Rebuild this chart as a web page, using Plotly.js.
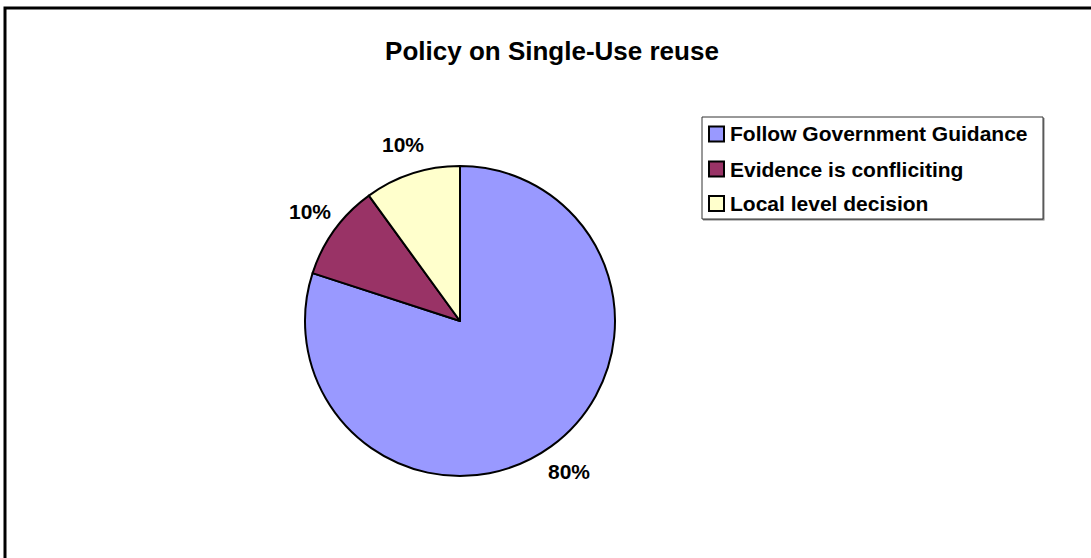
<!DOCTYPE html>
<html>
<head>
<meta charset="utf-8">
<script src="https://cdn.plot.ly/plotly-3.0.1.min.js"></script>
<style>
  html, body { margin: 0; padding: 0; background: #fff; }
  #chart { width: 1091px; height: 558px; }
</style>
</head>
<body>
<div id="chart"></div>
<script>
// Survey responses on single-use device reuse policy
const categories = ['Follow Government Guidance', 'Evidence is confliciting', 'Local level decision'];
const shares = [80, 10, 10];
const sliceColors = ['#9999FF', '#993366', '#FFFFCC'];

const W = 1091, H = 558;
const FONT = 'Liberation Sans, Arial, sans-serif';
// pie centre and radius in pixels
const cx = 460, cy = 321, R = 155;
// distance of the percentage labels from the pie centre
const labelDist = 186;

// pixel -> paper helpers (margins are zero, so paper == page)
const px = x => x / W;
const py = y => 1 - y / H;

const trace = {
  type: 'pie',
  labels: categories,
  values: shares,
  sort: false,
  direction: 'clockwise',
  rotation: 0,
  marker: { colors: sliceColors, line: { color: '#000', width: 2 } },
  textinfo: 'none',
  hoverinfo: 'label+percent',
  showlegend: false,
  domain: { x: [px(cx - R), px(cx + R)], y: [py(cy + R), py(cy - R)] }
};

// percentage labels placed outside each slice, at its mid-angle
const total = shares.reduce((a, b) => a + b, 0);
const annotations = [];
let acc = 0;
shares.forEach(v => {
  const mid = (acc + v / 2) / total * 2 * Math.PI;   // clockwise from 12 o'clock
  acc += v;
  annotations.push({
    xref: 'paper', yref: 'paper',
    x: px(cx + labelDist * Math.sin(mid)),
    y: py(cy - labelDist * Math.cos(mid)),
    xanchor: 'center', yanchor: 'middle',
    text: Math.round(v / total * 100) + '%',
    showarrow: false,
    font: { family: FONT, size: 21, color: '#000', weight: 'bold' }
  });
});

// legend: framed box with a square swatch and label per category
const legBox = { x0: 702, y0: 117, x1: 1043, y1: 219 };
const legRowY = [134, 169, 203.5];
const swatchX = 716.5, swatchHalf = 7.5, legTextX = 728;

const shapes = [
  // chart frame
  { type: 'rect', xref: 'paper', yref: 'paper',
    x0: px(5), x1: 1.02, y0: -0.02, y1: py(8),
    line: { color: '#000', width: 3 }, fillcolor: 'rgba(0,0,0,0)', layer: 'below' },
  // legend shadow and box
  { type: 'rect', xref: 'paper', yref: 'paper',
    x0: px(legBox.x0 + 1), x1: px(legBox.x1 + 1.5), y0: py(legBox.y1 + 1.5), y1: py(legBox.y0 + 1),
    line: { width: 0 }, fillcolor: '#808080', layer: 'above' },
  { type: 'rect', xref: 'paper', yref: 'paper',
    x0: px(legBox.x0), x1: px(legBox.x1), y0: py(legBox.y1), y1: py(legBox.y0),
    line: { color: '#333', width: 1 }, fillcolor: '#fff', layer: 'above' }
];

categories.forEach((name, i) => {
  const yc = legRowY[i];
  shapes.push({
    type: 'rect', xref: 'paper', yref: 'paper',
    x0: px(swatchX - swatchHalf), x1: px(swatchX + swatchHalf),
    y0: py(yc + swatchHalf), y1: py(yc - swatchHalf),
    line: { color: '#000', width: 2 }, fillcolor: sliceColors[i], layer: 'above'
  });
  annotations.push({
    xref: 'paper', yref: 'paper',
    x: px(legTextX), y: py(yc),
    xanchor: 'left', yanchor: 'middle',
    text: name, showarrow: false,
    font: { family: FONT, size: 21, color: '#000', weight: 'bold' }
  });
});

const layout = {
  width: W,
  height: H,
  margin: { l: 0, r: 0, t: 0, b: 0 },
  paper_bgcolor: '#fff',
  showlegend: false,
  title: {
    text: 'Policy on Single-Use reuse',
    x: px(552), xanchor: 'center',
    y: py(51), yanchor: 'middle',
    font: { family: FONT, size: 26, color: '#000', weight: 'bold' }
  },
  shapes: shapes,
  annotations: annotations
};

Plotly.newPlot('chart', [trace], layout, { displayModeBar: false, staticPlot: true });
</script>
</body>
</html>
